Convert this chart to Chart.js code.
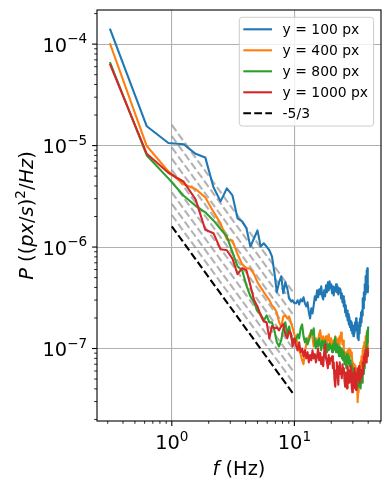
<!DOCTYPE html>
<html>
<head>
<meta charset="utf-8">
<script src="https://cdn.jsdelivr.net/npm/chart.js"></script>
<style>
  html, body { margin: 0; padding: 0; background: #fff; }
  canvas { display: block; }
</style>
</head>
<body>
<canvas id="psd" width="390" height="490"></canvas>
<script>
// Welch bin width (Hz); spectra start at the first non-zero bin
const binWidth = 0.3125;

// power spectra P((px/s)^2/Hz) for each row of the image
const psd100 = [
    1.42e-4, 1.55e-5, 1.06e-5, 1.03e-5, 8.3e-6, 7.65e-6, 3.88e-6, 2.82e-6,
    3.79e-6, 3.23e-6, 1.92e-6, 1.79e-6, 1.53e-6, 1.01e-6, 1.22e-6, 1.46e-6,
    1.01e-6, 1.09e-6, 1.01e-6, 9.3e-7, 8.1e-7, 5.6e-7, 3.58e-7, 4.5e-7,
    5.15e-7, 3.5e-7, 4.5e-7, 3.92e-7, 3.12e-7, 2.92e-7, 2.99e-7, 2.79e-7,
    2.79e-7, 2.99e-7, 2.72e-7, 3.05e-7, 2.92e-7, 3.2e-7, 2.79e-7, 2.6e-7,
    2.85e-7, 2.27e-7, 1.98e-7, 2.49e-7, 2.22e-7, 2.66e-7, 3.27e-7, 2.99e-7,
    3.74e-7, 3.2e-7, 3.83e-7, 3.42e-7, 4.1e-7, 3.27e-7, 3.05e-7, 3.74e-7,
    3.27e-7, 4.19e-7, 3.58e-7, 4.49e-7, 3.74e-7, 4.59e-7, 3.92e-7, 4.29e-7,
    3.5e-7, 4.1e-7, 3.34e-7, 4.01e-7, 3.66e-7, 4.29e-7, 3.58e-7, 4.1e-7,
    3.42e-7, 3.92e-7, 3.58e-7, 3.83e-7, 3.12e-7, 3.5e-7, 2.85e-7, 3.27e-7,
    2.6e-7, 2.99e-7, 2.27e-7, 2.66e-7, 2.07e-7, 2.37e-7, 1.89e-7, 2.17e-7,
    1.73e-7, 2.03e-7, 1.62e-7, 1.89e-7, 1.51e-7, 1.81e-7, 1.41e-7, 1.69e-7,
    1.32e-7, 1.58e-7, 1.41e-7, 1.81e-7, 1.51e-7, 1.98e-7, 1.58e-7, 1.81e-7,
    1.26e-7, 1.66e-7, 1.21e-7, 1.69e-7, 1.41e-7, 1.98e-7, 1.66e-7, 2.27e-7,
    1.81e-7, 2.37e-7, 2.12e-7, 3.12e-7, 2.49e-7, 3.58e-7, 2.99e-7, 4.29e-7,
    3.42e-7, 5.15e-7, 3.74e-7, 5.88e-7, 4.39e-7, 6.17e-7, 3.58e-7, 4.19e-7
];
const psd400 = [
    1.02e-4, 9.9e-6, 5.57e-6, 4.15e-6, 3.74e-6, 3.09e-6, 2.22e-6, 1.71e-6,
    1.19e-6, 1.16e-6, 8.5e-7, 6.75e-7, 6.2e-7, 6.1e-7, 5.4e-7, 4.5e-7,
    4.0e-7, 3.6e-7, 3.27e-7, 3.0e-7, 2.66e-7, 2.5e-7, 2.27e-7, 1.81e-7,
    1.65e-7, 2.07e-7, 2.12e-7, 1.98e-7, 2.07e-7, 1.81e-7, 1.58e-7, 1.38e-7,
    1.26e-7, 1.1e-7, 9.6e-8, 8.8e-8, 7.65e-8, 7.0e-8, 9.2e-8, 1.1e-7,
    1.2e-7, 1.32e-7, 1.38e-7, 1.51e-7, 1.26e-7, 1.05e-7, 1.15e-7, 1.26e-7,
    1.1e-7, 1.2e-7, 1.38e-7, 1.51e-7, 1.26e-7, 1.1e-7, 1.32e-7, 1.2e-7,
    1.15e-7, 1.32e-7, 1.05e-7, 1.26e-7, 1.38e-7, 1.2e-7, 1.1e-7, 1.26e-7,
    9.6e-8, 1.05e-7, 1.2e-7, 1.1e-7, 1.32e-7, 1.2e-7, 1.05e-7, 1.15e-7,
    1.26e-7, 1.1e-7, 1.32e-7, 1.2e-7, 1.44e-7, 1.32e-7, 1.1e-7, 1.2e-7,
    1.0e-7, 8.0e-8, 7.3e-8, 9.2e-8, 8.4e-8, 7.65e-8, 9.6e-8, 8.8e-8,
    9.2e-8, 1.0e-7, 8.8e-8, 9.6e-8, 8.4e-8, 9.2e-8, 7.3e-8, 6.4e-8,
    6.4e-8, 5.6e-8, 7.0e-8, 5.8e-8, 6.7e-8, 5.1e-8, 6.1e-8, 4.9e-8,
    2.95e-8, 3.7e-8, 5.8e-8, 6.7e-8, 5.6e-8, 7.3e-8, 6.1e-8, 7.65e-8,
    8.4e-8, 7.0e-8, 9.6e-8, 8.0e-8, 1.05e-7, 8.8e-8, 1.15e-7, 9.6e-8,
    1.05e-7, 1.32e-7, 9.6e-8, 1.44e-7, 1.1e-7, 1.2e-7, 8.4e-8, 9.6e-8
];
const psd800 = [
    6.65e-5, 8.0e-6, 4.75e-6, 3.2e-6, 2.55e-6, 2.2e-6, 1.83e-6, 1.5e-6,
    1.27e-6, 8.9e-7, 6.45e-7, 5.9e-7, 4.2e-7, 3.27e-7, 2.85e-7, 2.33e-7,
    2.17e-7, 1.89e-7, 2.12e-7, 1.81e-7, 1.81e-7, 1.51e-7, 1.15e-7, 1.05e-7,
    1.21e-7, 1.58e-7, 1.81e-7, 1.38e-7, 1.65e-7, 1.32e-7, 1.18e-7, 1.25e-7,
    1.2e-7, 1.38e-7, 1.26e-7, 1.58e-7, 1.73e-7, 1.32e-7, 1.15e-7, 1.26e-7,
    1.1e-7, 1.2e-7, 1.32e-7, 1.51e-7, 1.38e-7, 1.58e-7, 1.1e-7, 1.0e-7,
    1.2e-7, 1.05e-7, 1.26e-7, 1.1e-7, 9.6e-8, 1.2e-7, 1.15e-7, 1.0e-7,
    1.2e-7, 1.05e-7, 9.2e-8, 1.1e-7, 9.6e-8, 1.12e-7, 1.0e-7, 1.05e-7,
    9.2e-8, 1.1e-7, 9.6e-8, 1.2e-7, 1.29e-7, 9.2e-8, 1.0e-7, 1.1e-7,
    9.6e-8, 8.4e-8, 1.05e-7, 9.2e-8, 1.0e-7, 8.0e-8, 9.6e-8, 7.65e-8,
    9.2e-8, 7.0e-8, 8.4e-8, 7.65e-8, 6.4e-8, 8.8e-8, 7.3e-8, 8.0e-8,
    7.0e-8, 8.4e-8, 6.7e-8, 7.65e-8, 5.8e-8, 7.0e-8, 5.3e-8, 6.4e-8,
    5.1e-8, 6.1e-8, 4.6e-8, 5.6e-8, 4.9e-8, 4.05e-8, 5.1e-8, 4.4e-8,
    5.3e-8, 4.2e-8, 4.9e-8, 5.8e-8, 4.4e-8, 5.3e-8, 4.05e-8, 4.9e-8,
    5.8e-8, 4.6e-8, 6.1e-8, 5.1e-8, 6.7e-8, 5.6e-8, 7.65e-8, 6.4e-8,
    9.2e-8, 7.3e-8, 1.05e-7, 8.4e-8, 1.26e-7, 1.51e-7, 1.15e-7, 1.65e-7
];
const psd1000 = [
    6.4e-5, 8.3e-6, 5.4e-6, 4.4e-6, 2.95e-6, 1.48e-6, 1.37e-6, 9.5e-7,
    9.3e-7, 7.7e-7, 5.4e-7, 6.2e-7, 5.9e-7, 4.2e-7, 3.0e-7, 2.6e-7,
    2.12e-7, 1.85e-7, 1.81e-7, 1.26e-7, 1.66e-7, 1.58e-7, 1.62e-7, 1.51e-7,
    1.66e-7, 1.73e-7, 1.38e-7, 1.26e-7, 1.48e-7, 1.41e-7, 1.05e-7, 1.26e-7,
    1.07e-7, 9.6e-8, 1.15e-7, 9.2e-8, 1.0e-7, 8.4e-8, 9.6e-8, 8.0e-8,
    9.2e-8, 7.3e-8, 8.6e-8, 7.65e-8, 9.6e-8, 8.0e-8, 8.8e-8, 7.3e-8,
    8.4e-8, 1.0e-7, 7.65e-8, 9.0e-8, 7.0e-8, 8.2e-8, 6.7e-8, 9.2e-8,
    1.1e-7, 8.0e-8, 7.3e-8, 6.4e-8, 8.6e-8, 7.0e-8, 8.0e-8, 7.65e-8,
    8.4e-8, 6.4e-8, 7.3e-8, 4.9e-8, 4.2e-8, 6.1e-8, 7.3e-8, 5.8e-8,
    4.4e-8, 6.7e-8, 7.3e-8, 5.6e-8, 6.1e-8, 5.1e-8, 7.0e-8, 5.8e-8,
    6.4e-8, 4.9e-8, 4.2e-8, 5.8e-8, 5.3e-8, 4.05e-8, 6.7e-8, 5.45e-8,
    6.1e-8, 4.6e-8, 5.1e-8, 6.7e-8, 5.8e-8, 4.2e-8, 3.7e-8, 5.6e-8,
    4.6e-8, 4.05e-8, 6.4e-8, 4.9e-8, 5.3e-8, 3.9e-8, 5.8e-8, 4.9e-8,
    6.4e-8, 5.1e-8, 5.8e-8, 6.7e-8, 4.6e-8, 5.6e-8, 5.3e-8, 6.1e-8,
    5.1e-8, 6.1e-8, 7.3e-8, 5.6e-8, 6.7e-8, 8.4e-8, 7.3e-8, 8.8e-8,
    8.0e-8, 9.6e-8, 7.3e-8, 9.2e-8, 7.65e-8, 1.0e-7, 8.4e-8, 9.2e-8
];

const freqs = psd100.map((_, i) => (i + 1) * binWidth);

const seriesLabels = ["y = 100 px", "y = 400 px", "y = 800 px", "y = 1000 px"];
const seriesColors = ["#1f77b4", "#ff7f0e", "#2ca02c", "#d62728"];
const slopeLabel = "-5/3";

// -5/3 guide lines, value at f = 1 Hz and at f = 10 Hz
const guideX = [1, 10];
const guideStart = [2.07e-6, 2.67e-6, 3.45e-6, 4.45e-6, 5.75e-6, 7.43e-6, 9.59e-6, 1.24e-5, 1.6e-5];
const guideEnd = [4.46e-8, 5.75e-8, 7.43e-8, 9.59e-8, 1.24e-7, 1.6e-7, 2.07e-7, 2.67e-7, 3.45e-7];
const slopeStart = 1.6e-6;
const slopeEnd = 3.45e-8;

// axis ticks
const xMajorTicks = [1, 10];
const xMajorExp = ["0", "1"];
const xMinorTicks = [0.3, 0.4, 0.5, 0.6, 0.7, 0.8, 0.9, 2, 3, 4, 5, 6, 7, 8, 9, 20, 30, 40, 50];
const yMajorTicks = [1e-7, 1e-6, 1e-5, 1e-4];
const yMajorExp = ["\u22127", "\u22126", "\u22125", "\u22124"];
const yMinorTicks = [
    2e-8, 3e-8, 4e-8, 5e-8, 6e-8, 7e-8, 8e-8, 9e-8,
    2e-7, 3e-7, 4e-7, 5e-7, 6e-7, 7e-7, 8e-7, 9e-7,
    2e-6, 3e-6, 4e-6, 5e-6, 6e-6, 7e-6, 8e-6, 9e-6,
    2e-5, 3e-5, 4e-5, 5e-5, 6e-5, 7e-5, 8e-5, 9e-5,
    2e-4
];

const FONT = '"DejaVu Sans"';
const LABEL_SIZE = 19.4;
const LEGEND_SIZE = 13.9;

function toPoints(ys) {
    return ys.map((v, i) => ({ x: freqs[i], y: v }));
}

// draws runs of text: 'n' upright, 'i' italic, 's' superscript
function drawRuns(ctx, runs, xPos, baseline, size, align) {
    const fontFor = st => (st === "i" ? "italic " : "") + (st === "s" ? size * 0.7 : size) + "px " + FONT;
    let total = 0;
    runs.forEach(([t, st]) => { ctx.font = fontFor(st); total += ctx.measureText(t).width; });
    let cur = align === "right" ? xPos - total : xPos - total / 2;
    ctx.textAlign = "left";
    ctx.textBaseline = "alphabetic";
    runs.forEach(([t, st]) => {
        ctx.font = fontFor(st);
        ctx.fillText(t, cur, st === "s" ? baseline - size * 0.42 : baseline);
        cur += ctx.measureText(t).width;
    });
}

const axesDecor = {
    id: "axesDecor",
    afterDraw(chart) {
        const { ctx, chartArea: a, scales: { x, y } } = chart;
        ctx.save();
        ctx.fillStyle = "#000";
        ctx.strokeStyle = "#000";

        // tick marks
        const tick = (px, py, dx, dy, w) => {
            ctx.lineWidth = w;
            ctx.beginPath();
            ctx.moveTo(px, py);
            ctx.lineTo(px + dx, py + dy);
            ctx.stroke();
        };
        xMajorTicks.forEach(v => tick(x.getPixelForValue(v), a.bottom, 0, 4.9, 1.1));
        xMinorTicks.forEach(v => tick(x.getPixelForValue(v), a.bottom, 0, 2.8, 0.85));
        yMajorTicks.forEach(v => tick(a.left, y.getPixelForValue(v), -4.9, 0, 1.1));
        yMinorTicks.forEach(v => tick(a.left, y.getPixelForValue(v), -2.8, 0, 0.85));

        // spines
        ctx.lineWidth = 1.1;
        ctx.strokeRect(a.left, a.top, a.right - a.left, a.bottom - a.top);

        // tick labels
        xMajorTicks.forEach((v, i) => {
            drawRuns(ctx, [["10", "n"], [xMajorExp[i], "s"]], x.getPixelForValue(v), a.bottom + 28.3, LABEL_SIZE, "center");
        });
        yMajorTicks.forEach((v, i) => {
            drawRuns(ctx, [["10", "n"], [yMajorExp[i], "s"]], a.left - 9.8, y.getPixelForValue(v) + 7.5, LABEL_SIZE, "right");
        });

        // axis titles
        drawRuns(ctx, [["f", "i"], [" (Hz)", "n"]], (a.left + a.right) / 2, 475, LABEL_SIZE, "center");
        ctx.save();
        ctx.translate(33, (a.top + a.bottom) / 2);
        ctx.rotate(-Math.PI / 2);
        drawRuns(ctx, [["P", "i"], [" ((", "n"], ["px", "i"], ["/", "n"], ["s", "i"], [")", "n"],
            ["2", "s"], ["/", "n"], ["Hz", "i"], [")", "n"]], 0, 0, LABEL_SIZE, "center");
        ctx.restore();

        // legend
        const lx = a.right - 141.7, ly = a.top + 7.3, lw = 134.3, lh = 108.7;
        ctx.beginPath();
        ctx.roundRect(lx, ly, lw, lh, 3);
        ctx.fillStyle = "rgba(255,255,255,0.8)";
        ctx.fill();
        ctx.strokeStyle = "#cccccc";
        ctx.lineWidth = 1;
        ctx.stroke();
        const entries = seriesLabels.map((t, i) => [t, seriesColors[i], []]).concat([[slopeLabel, "#000", [7.7, 3.3]]]);
        entries.forEach(([t, c, dash], i) => {
            const ry = ly + 12 + 21 * i;
            ctx.strokeStyle = c;
            ctx.lineWidth = 2.1;
            ctx.setLineDash(dash);
            ctx.beginPath();
            ctx.moveTo(lx + 4, ry);
            ctx.lineTo(lx + 32.7, ry);
            ctx.stroke();
            ctx.setLineDash([]);
            ctx.fillStyle = "#000";
            ctx.font = LEGEND_SIZE + "px " + FONT;
            ctx.textAlign = "left";
            ctx.textBaseline = "alphabetic";
            ctx.fillText(t, lx + 43.3, ry + 5);
        });
        ctx.restore();
    }
};

const datasets = [];
guideStart.forEach((s, i) => {
    datasets.push({
        data: [{ x: guideX[0], y: s }, { x: guideX[1], y: guideEnd[i] }],
        borderColor: "rgba(128,128,128,0.6)",
        borderWidth: 2.1,
        borderDash: [7.7, 3.3],
        order: 10
    });
});
[psd100, psd400, psd800, psd1000].forEach((ys, i) => {
    datasets.push({
        label: seriesLabels[i],
        data: toPoints(ys),
        borderColor: seriesColors[i],
        borderWidth: 2.1,
        order: 5 - i
    });
});
datasets.push({
    label: slopeLabel,
    data: [{ x: guideX[0], y: slopeStart }, { x: guideX[1], y: slopeEnd }],
    borderColor: "#000",
    borderWidth: 2.1,
    borderDash: [7.7, 3.3],
    order: 0
});

const gridColor = majors => c => (c.tick && majors.includes(c.tick.value)) ? "#b0b0b0" : "rgba(0,0,0,0)";

new Chart(document.getElementById("psd"), {
    type: "line",
    data: { datasets },
    options: {
        responsive: false,
        animation: false,
        devicePixelRatio: 1,
        layout: { padding: { left: 0, right: 9, top: 10, bottom: 0 } },
        plugins: { legend: { display: false }, tooltip: { enabled: false } },
        elements: {
            point: { radius: 0 },
            line: { tension: 0, fill: false, borderJoinStyle: "round" }
        },
        scales: {
            x: {
                type: "logarithmic",
                min: 0.2453,
                max: 50.9,
                afterBuildTicks: s => { s.ticks = xMinorTicks.concat(xMajorTicks).map(v => ({ value: v })); },
                afterFit: s => { s.height = 69; },
                ticks: { display: false },
                border: { display: false },
                grid: { drawTicks: false, lineWidth: 1.1, color: gridColor(xMajorTicks) }
            },
            y: {
                type: "logarithmic",
                min: 1.93e-8,
                max: 2.17e-4,
                afterBuildTicks: s => { s.ticks = yMinorTicks.concat(yMajorTicks).map(v => ({ value: v })); },
                afterFit: s => { s.width = 97; },
                ticks: { display: false },
                border: { display: false },
                grid: { drawTicks: false, lineWidth: 1.1, color: gridColor(yMajorTicks) }
            }
        }
    },
    plugins: [axesDecor]
});
</script>
</body>
</html>
